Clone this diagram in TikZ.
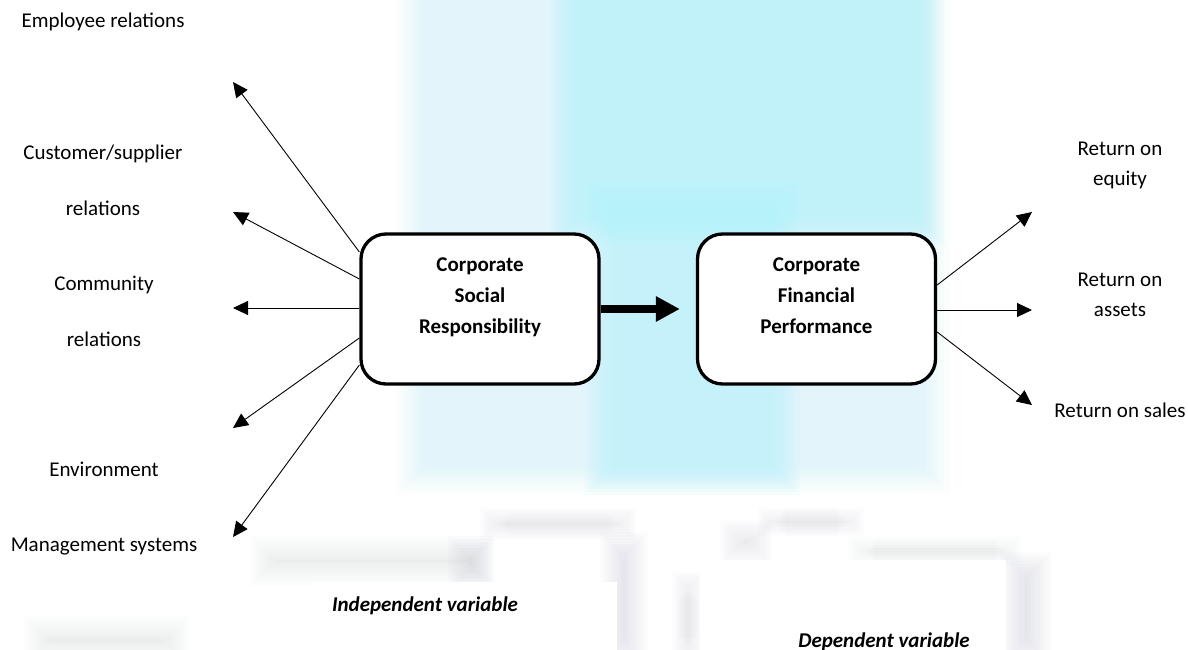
\documentclass[tikz,border=0pt]{standalone}
\usepackage{fontspec}
\setmainfont{Carlito}
\usetikzlibrary{arrows.meta,calc}

\definecolor{hazecyan}{RGB}{175,242,250}
\definecolor{hazegray}{RGB}{190,192,208}

% soft-edged rectangle: colour, opacity per layer, x1, y1, x2, y2
\newcommand\hazebox[6]{%
  \foreach \k in {0,...,9}{%
    \fill[#1, opacity=#2] ({#3+3*\k},{#4+3*\k}) rectangle ({#5-3*\k},{#6-3*\k});}}

\begin{document}
\begin{tikzpicture}[x=1pt, y=-1pt,
  lbl/.style={align=center, inner sep=0pt, text height=16pt, text depth=2pt,
              font=\fontsize{21}{56}\selectfont},
  lbltwo/.style={lbl, text height=72pt},
  rlbl/.style={lbl, font=\fontsize{21}{30}\selectfont},
  rlbltwo/.style={rlbl, text height=46pt},
  varlbl/.style={inner sep=0pt, text height=16pt, text depth=2pt,
              font=\bfseries\itshape\fontsize{21}{26}\selectfont},
  conceptbox/.style={draw, line width=3.3pt, rounded corners=25pt, fill=white,
              minimum width=238pt, minimum height=150pt, align=center, inner sep=0pt,
              text height=78pt, text depth=30pt,
              font=\bfseries\fontsize{21}{31}\selectfont},
  thinarrow/.style={line width=0.9pt, -{Triangle[length=15pt, width=14pt]}},
  thickarrow/.style={line width=8pt, -{Triangle[length=24pt, width=24pt]}}]

\useasboundingbox (0,0) rectangle (1188,650);
\fill[white] (0,0) rectangle (1188,650);

% faint background wash
\hazebox{hazecyan}{0.035}{395}{-40}{950}{495}
\hazebox{hazecyan}{0.085}{550}{-40}{945}{245}
\hazebox{hazecyan}{0.07}{585}{180}{800}{495}
\hazebox{hazegray}{0.035}{480}{508}{636}{540}
\hazebox{hazegray}{0.03}{250}{536}{495}{586}
\hazebox{hazegray}{0.045}{448}{536}{494}{590}
\hazebox{hazegray}{0.045}{600}{532}{648}{665}
\hazebox{hazegray}{0.035}{758}{508}{864}{536}
\hazebox{hazegray}{0.035}{720}{520}{772}{564}
\hazebox{hazegray}{0.03}{848}{536}{1022}{566}
\hazebox{hazegray}{0.045}{1000}{552}{1052}{665}
\hazebox{hazegray}{0.035}{672}{572}{704}{665}
\hazebox{hazegray}{0.03}{24}{616}{190}{665}
\fill[white] (312,582) rectangle (617,650);
\fill[white] (700,560) rectangle (1006,650);

% concept boxes
\node[conceptbox] (csr) at (480,309) {Corporate\\Social\\Responsibility};
\node[conceptbox] (cfp) at (816.5,309) {Corporate\\Financial\\Performance};

% dimension labels
\node[lbl]    (emp)  at (103,21)  {Employee relations};
\node[lbltwo] (cust) at (103,180) {Customer/supplier\\relations};
\node[lbltwo] (comm) at (104,311) {Community\\relations};
\node[lbl]    (env)  at (104,469) {Environment};
\node[lbl]    (mgmt) at (104,544) {Management systems};

\node[rlbltwo] (roe) at (1120,163) {Return on\\equity};
\node[rlbltwo] (roa) at (1120,294) {Return on\\assets};
\node[rlbl]    (ros) at (1120,410) {Return on sales};

\node[varlbl] (indep) at (425,604) {Independent variable};
\node[varlbl] (dep)   at (884,640) {Dependent variable};

% arrow ends
\coordinate (tEmp)  at (233,82);
\coordinate (tCust) at (233,212);
\coordinate (tComm) at (233,308);
\coordinate (tEnv)  at (233,428);
\coordinate (tMgmt) at (233,537);
\coordinate (tRoe)  at (1032,212);
\coordinate (tRoa)  at (1032,310);
\coordinate (tRos)  at (1032,405);

% CSR dimensions
\draw[thinarrow] ($(csr.west)+(0,-57)$) -- (tEmp);
\draw[thinarrow] ($(csr.west)+(0,-30)$) -- (tCust);
\draw[thinarrow] ($(csr.west)+(0,-1)$)  -- (tComm);
\draw[thinarrow] ($(csr.west)+(0,29)$)  -- (tEnv);
\draw[thinarrow] ($(csr.west)+(0,56)$)  -- (tMgmt);

% CSR -> CFP
\draw[thickarrow, shorten >=16pt] (csr.east) -- (cfp.west);

% CFP measures
\draw[thinarrow] ($(cfp.east)+(0,-24)$) -- (tRoe);
\draw[thinarrow] ($(cfp.east)+(0,1)$)   -- (tRoa);
\draw[thinarrow] ($(cfp.east)+(0,23)$)  -- (tRos);
\end{tikzpicture}
\end{document}
